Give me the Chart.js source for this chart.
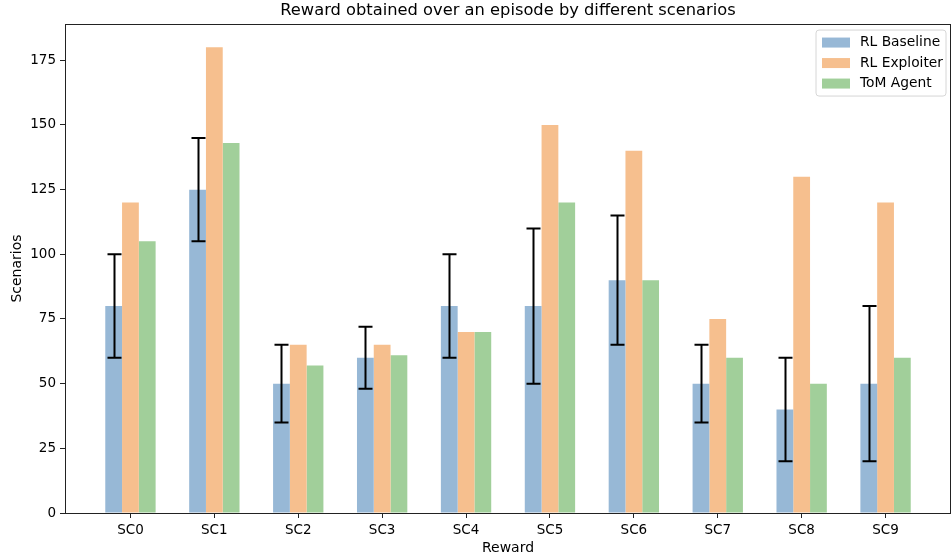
<!DOCTYPE html>
<html>
<head>
<meta charset="utf-8">
<script src="https://cdn.jsdelivr.net/npm/chart.js@4"></script>
<style>
  html, body { margin: 0; padding: 0; background: #fff; }
  #wrap { width: 951px; height: 560px; position: relative; }
</style>
</head>
<body>
<div id="wrap"><canvas id="c" width="951" height="560"></canvas></div>
<script>
// Scenario labels and per-series rewards
const scenarios = ['SC0', 'SC1', 'SC2', 'SC3', 'SC4', 'SC5', 'SC6', 'SC7', 'SC8', 'SC9'];
const rlBaseline = [80, 125, 50, 60, 80, 80, 90, 50, 40, 50];
const rlBaselineErr = [20, 20, 15, 12, 20, 30, 25, 15, 20, 30];
const rlExploiter = [120, 180, 65, 65, 70, 150, 140, 75, 130, 120];
const tomAgent = [105, 143, 57, 61, 70, 120, 90, 60, 50, 60];
const yTicks = [0, 25, 50, 75, 100, 125, 150, 175];

const FONT = "'DejaVu Sans', sans-serif";

const toPoints = arr => arr.map((v, i) => ({ x: i, y: v }));

// Error bars for the baseline series
const errorBars = {
  id: 'errorBars',
  afterDatasetsDraw(chart) {
    const meta = chart.getDatasetMeta(0);
    const ys = chart.scales.y;
    const ctx = chart.ctx;
    ctx.save();
    ctx.strokeStyle = '#000';
    ctx.lineWidth = 2;
    meta.data.forEach((bar, i) => {
      const v = rlBaseline[i], e = rlBaselineErr[i];
      const x = Math.round(bar.x) + 0.5;
      const yTop = ys.getPixelForValue(v + e);
      const yBot = ys.getPixelForValue(v - e);
      const cap = 7;
      ctx.beginPath();
      ctx.moveTo(x, yTop); ctx.lineTo(x, yBot);
      ctx.moveTo(x - cap, yTop); ctx.lineTo(x + cap, yTop);
      ctx.moveTo(x - cap, yBot); ctx.lineTo(x + cap, yBot);
      ctx.stroke();
    });
    ctx.restore();
  }
};

// Frame around the plot area plus the boxed legend in the upper right
const frameAndLegend = {
  id: 'frameAndLegend',
  afterDraw(chart) {
    const { ctx, chartArea: a } = chart;
    ctx.save();
    ctx.strokeStyle = '#222';
    ctx.lineWidth = 1;
    ctx.strokeRect(Math.round(a.left) + 0.5, Math.round(a.top) + 0.5,
                   Math.round(a.right - a.left) - 1, Math.round(a.bottom - a.top));

    // legend
    const ds = chart.data.datasets;
    const bw = 130, bh = 66;
    const bx = a.right - 5 - bw, by = a.top + 6;
    const r = 3;
    ctx.beginPath();
    ctx.moveTo(bx + r, by);
    ctx.arcTo(bx + bw, by, bx + bw, by + bh, r);
    ctx.arcTo(bx + bw, by + bh, bx, by + bh, r);
    ctx.arcTo(bx, by + bh, bx, by, r);
    ctx.arcTo(bx, by, bx + bw, by, r);
    ctx.closePath();
    ctx.fillStyle = 'rgba(255,255,255,0.8)';
    ctx.fill();
    ctx.strokeStyle = '#d6d6d6';
    ctx.stroke();
    ctx.font = '13.8px ' + FONT;
    ctx.textBaseline = 'middle';
    ctx.textAlign = 'left';
    ds.forEach((d, i) => {
      const cy = by + 12.5 + i * 20.5;
      ctx.fillStyle = d.backgroundColor;
      ctx.fillRect(bx + 6, cy - 5, 28, 10);
      ctx.fillStyle = '#000';
      ctx.fillText(d.label, bx + 44, cy);
    });
    ctx.restore();
  }
};

new Chart(document.getElementById('c'), {
  type: 'bar',
  data: {
    datasets: [
      { label: 'RL Baseline', data: toPoints(rlBaseline), backgroundColor: '#97b8d6' },
      { label: 'RL Exploiter', data: toPoints(rlExploiter), backgroundColor: '#f6bf8e' },
      { label: 'ToM Agent', data: toPoints(tomAgent), backgroundColor: '#a1cf9a' }
    ]
  },
  plugins: [errorBars, frameAndLegend],
  options: {
    responsive: false,
    animation: false,
    devicePixelRatio: 1,
    layout: { padding: { left: 0, right: 0, top: 0, bottom: 0 } },
    datasets: { bar: { categoryPercentage: 0.6, barPercentage: 1.0, borderWidth: 0 } },
    plugins: {
      legend: { display: false },
      tooltip: { enabled: false },
      title: {
        display: true,
        fullSize: false,
        text: 'Reward obtained over an episode by different scenarios',
        color: '#000',
        font: { family: FONT, size: 16.3, weight: 'normal' },
        padding: { top: 1, bottom: 3.5 }
      }
    },
    scales: {
      x: {
        type: 'linear',
        min: -0.78,
        max: 9.78,
        offset: false,
        afterBuildTicks: s => { s.ticks = scenarios.map((_, i) => ({ value: i })); },
        afterFit: s => { s.height = 47; },
        ticks: {
          color: '#000',
          font: { family: FONT, size: 13.5 },
          padding: 4,
          maxRotation: 0,
          autoSkip: false,
          callback: v => scenarios[v]
        },
        grid: { drawOnChartArea: false, drawTicks: true, tickLength: 5, color: '#222', offset: false },
        border: { display: true, color: '#222', width: 1 },
        title: {
          display: true, text: 'Reward', color: '#000',
          font: { family: FONT, size: 14 }, padding: { top: 2, bottom: 3 }
        }
      },
      y: {
        min: 0,
        max: 189,
        afterBuildTicks: s => { s.ticks = yTicks.map(v => ({ value: v })); },
        afterFit: s => { s.width = 65; },
        ticks: { color: '#000', font: { family: FONT, size: 13.5 }, padding: 4 },
        grid: { drawOnChartArea: false, drawTicks: true, tickLength: 5, color: '#222' },
        border: { display: true, color: '#222', width: 1 },
        title: {
          display: true, text: 'Scenarios', color: '#000',
          font: { family: FONT, size: 14 }, padding: { top: 9, bottom: 4 }
        }
      }
    }
  }
});
</script>
</body>
</html>
